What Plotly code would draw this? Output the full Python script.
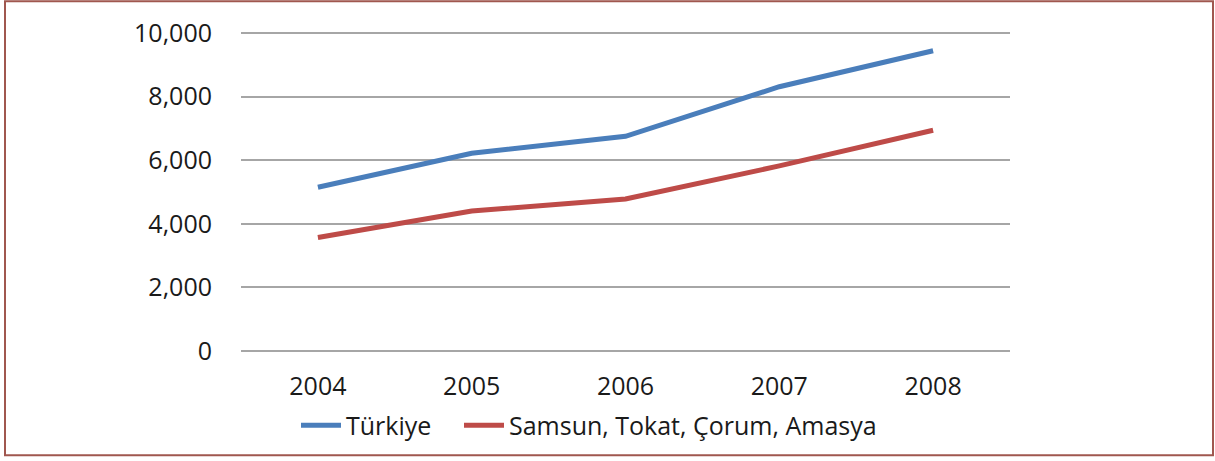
import plotly.graph_objects as go

years = ["2004", "2005", "2006", "2007", "2008"]
turkiye = [5150, 6220, 6750, 8310, 9440]
region = [3570, 4400, 4780, 5820, 6940]
series_names = ["Türkiye", "Samsun, Tokat, Çorum, Amasya"]
y_ticks = [0, 2000, 4000, 6000, 8000, 10000]
y_labels = ["0", "2,000", "4,000", "6,000", "8,000", "10,000"]

W, H = 1215, 461
# plot area: 0 at y=353, 10000 at y=33; pad 2px so edge gridlines show
pad_units = 62.5
ml, mr, mt, mb = 241, 205, 31, 106
pw, ph = W - ml - mr, H - mt - mb

def py(pix):
    return (mt + ph - pix) / ph

def px(pix):
    return (pix - ml) / pw

fig = go.Figure()
fig.add_trace(go.Scatter(x=years, y=turkiye, mode="lines", name=series_names[0],
                         line=dict(color="#4A7EBB", width=5), legend="legend"))
fig.add_trace(go.Scatter(x=years, y=region, mode="lines", name=series_names[1],
                         line=dict(color="#BE4B48", width=5), legend="legend2"))

font = dict(family="Open Sans, Liberation Sans, sans-serif", size=25, color="#1a1a1a")

leg_common = dict(orientation="h", xanchor="left", y=py(428), yanchor="middle",
                  font=font, bgcolor="rgba(0,0,0,0)", itemwidth=40)

fig.update_layout(
    width=W, height=H,
    margin=dict(l=ml, r=mr, t=mt, b=mb),
    paper_bgcolor="white", plot_bgcolor="white",
    font=font,
    showlegend=True,
    legend=dict(x=px(296), **leg_common),
    legend2=dict(x=px(459), **leg_common),
    xaxis=dict(type="category", range=[-0.5, 4.5], showgrid=False, zeroline=False,
               showline=False, ticks="", ticklabelstandoff=16, tickfont=font),
    yaxis=dict(range=[-pad_units, 10000 + pad_units], tickvals=y_ticks, ticktext=y_labels,
               showgrid=True, gridcolor="#A6A6A6", gridwidth=1.5,
               zeroline=False, showline=False, ticks="",
               ticklabelstandoff=28, tickfont=font),
    shapes=[dict(type="rect", xref="paper", yref="paper",
                 x0=(5 - ml) / pw, x1=(1213 - ml) / pw,
                 y0=py(458), y1=py(1),
                 line=dict(color="#A0574F", width=2), fillcolor="rgba(0,0,0,0)",
                 layer="below")],
)
fig.write_html("out.html", config={"displayModeBar": False},
               post_script="document.body.style.margin='0';")
